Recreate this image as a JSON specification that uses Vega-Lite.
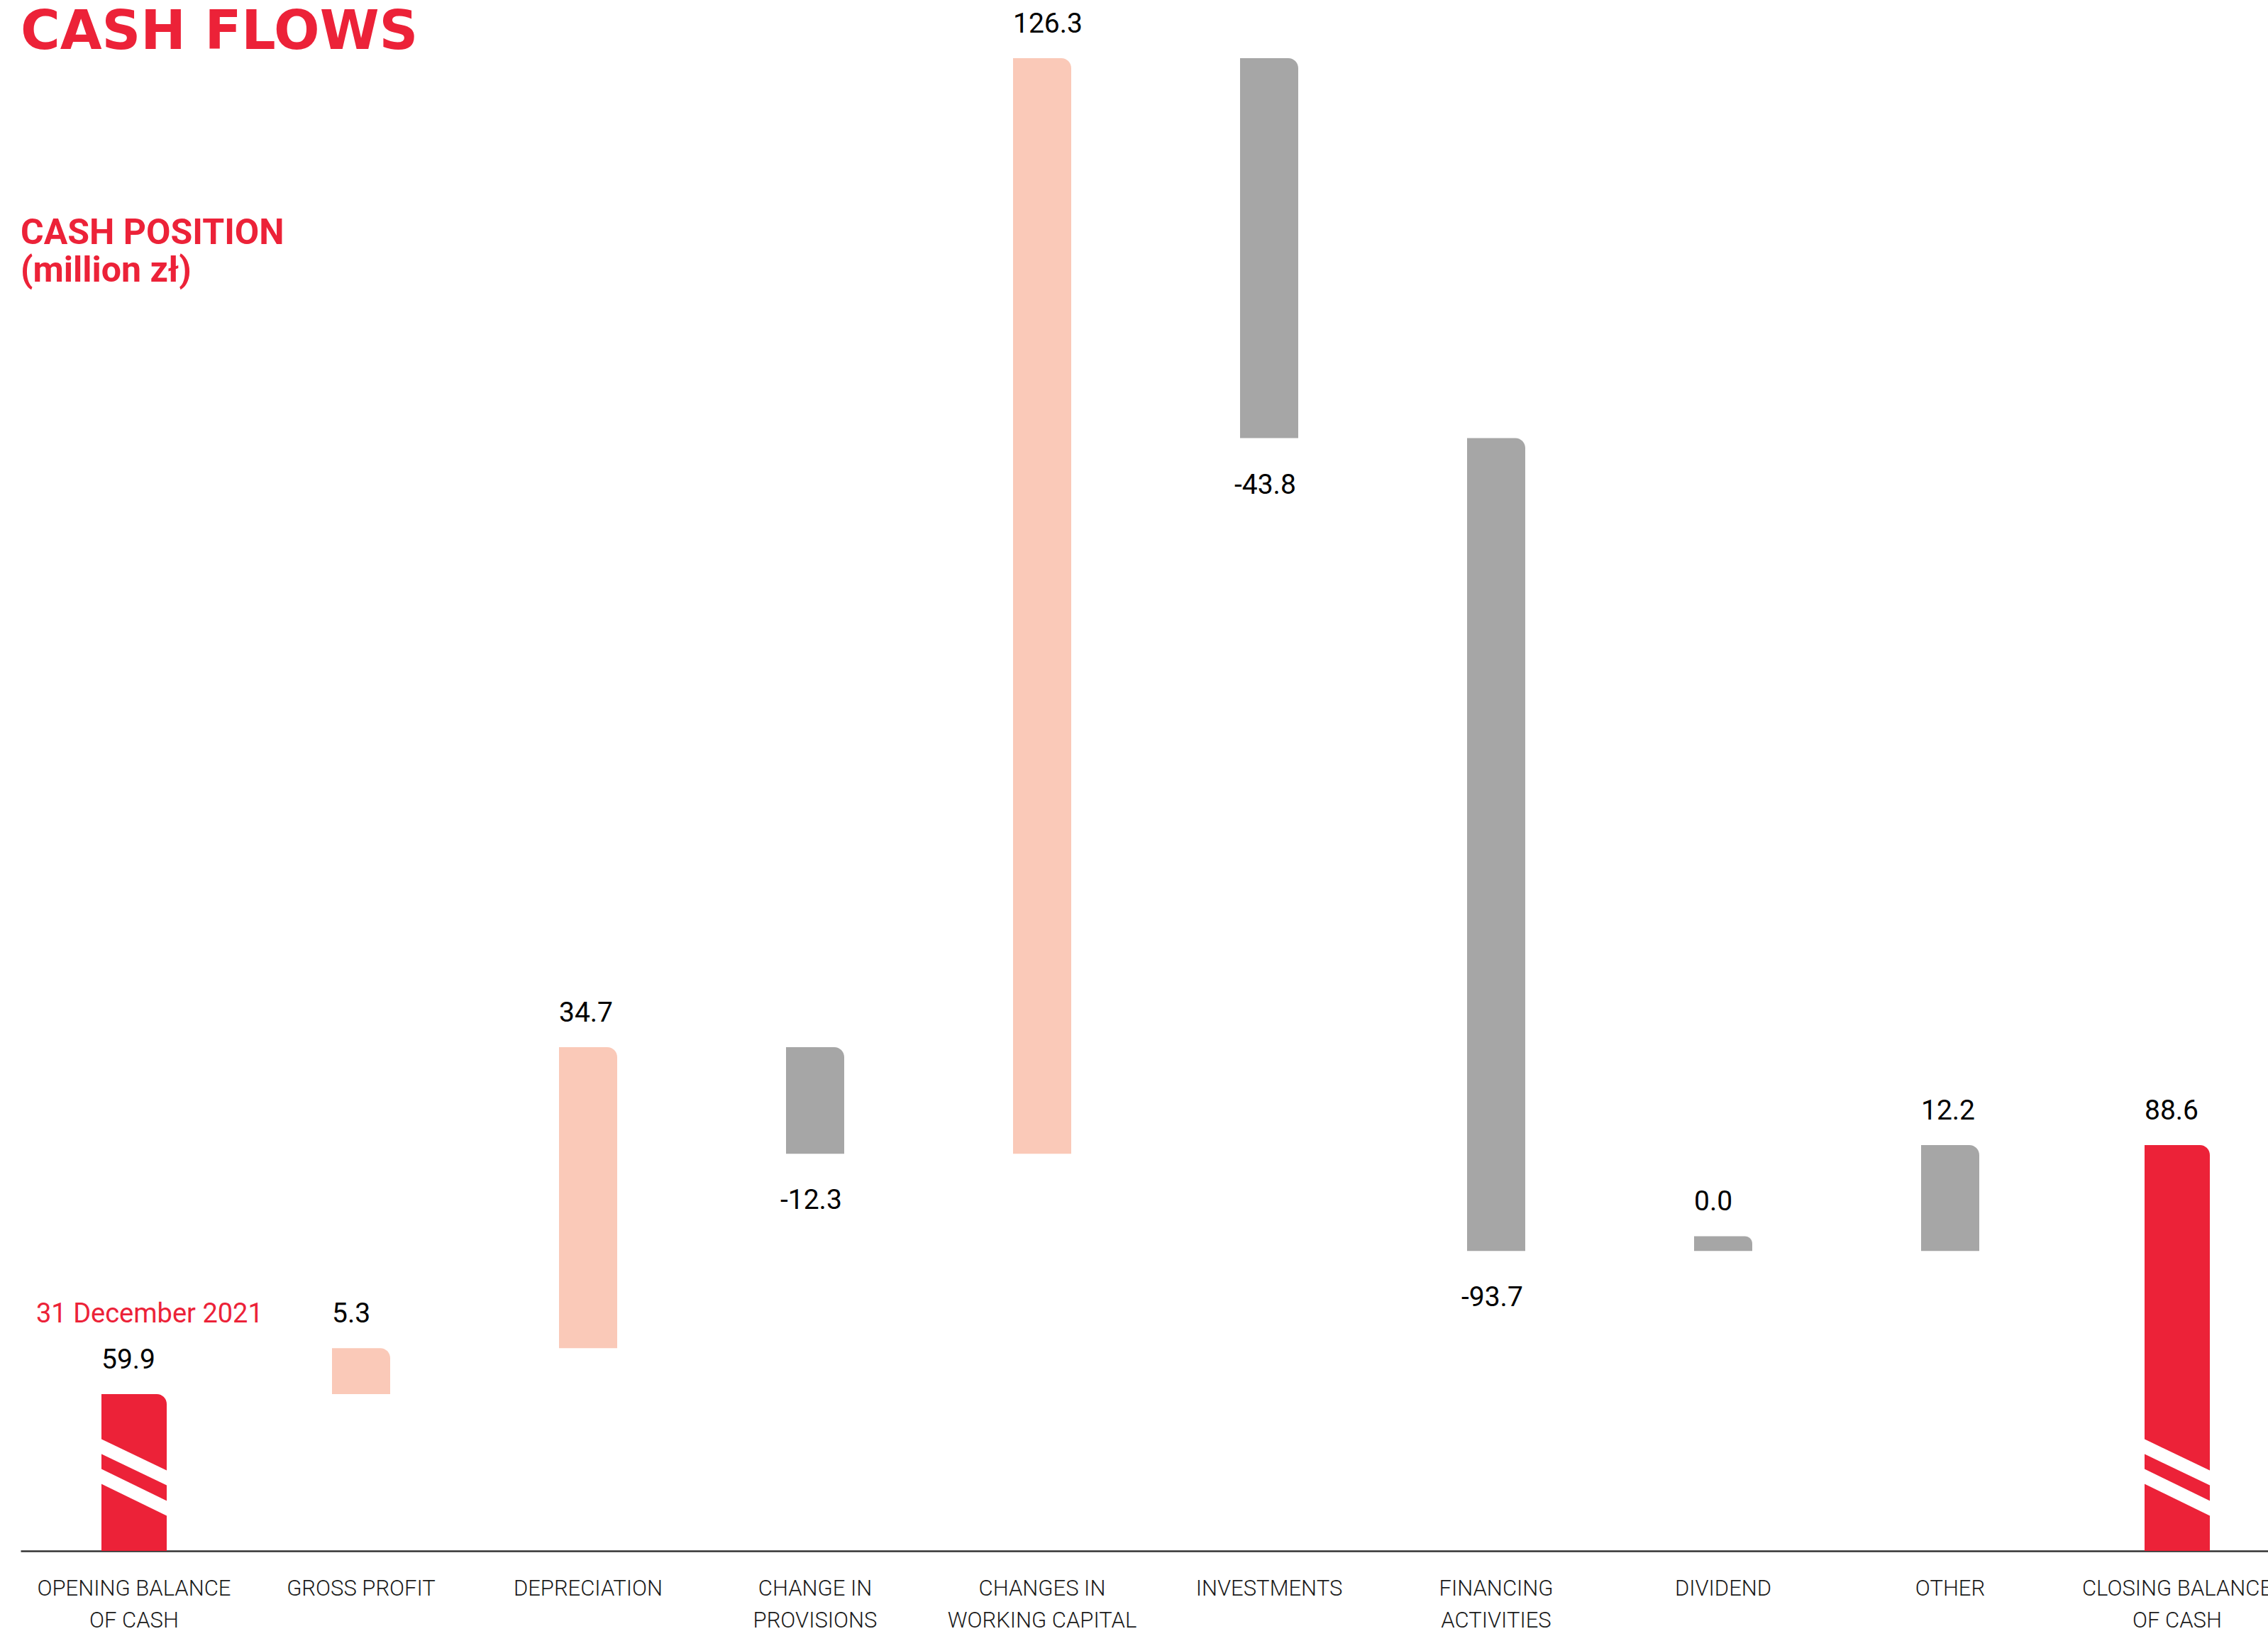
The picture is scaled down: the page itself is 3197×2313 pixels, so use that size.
{
  "$schema": "https://vega.github.io/schema/vega-lite/v6.json",
  "width": 3200,
  "height": 2186,
  "padding": {"left": 29, "top": 0, "right": 0, "bottom": 0},
  "background": "white",
  "title": {
    "text": "CASH FLOWS",
    "subtitle": ["CASH POSITION", "(million zł)"],
    "anchor": "start",
    "frame": "group",
    "orient": "top",
    "offset": -408,
    "font": "DejaVu Sans",
    "fontSize": 76,
    "fontWeight": 700,
    "color": "#EC2238",
    "subtitleFont": "Roboto",
    "subtitleFontSize": 50,
    "subtitleFontWeight": 700,
    "subtitleColor": "#EC2238",
    "subtitlePadding": 219,
    "subtitleLineHeight": 53
  },
  "config": {"view": {"stroke": null}},
  "datasets": {
    "flows": [
      {"item": "OPENING BALANCE|OF CASH", "start": 0, "end": 59.9, "value": 59.9, "label": "59.9", "group": "balance", "note": "31 December 2021"},
      {"item": "GROSS PROFIT", "start": 59.9, "end": 65.2, "value": 5.3, "label": "5.3", "group": "operating"},
      {"item": "DEPRECIATION", "start": 65.2, "end": 99.9, "value": 34.7, "label": "34.7", "group": "operating"},
      {"item": "CHANGE IN|PROVISIONS", "start": 99.9, "end": 87.6, "value": -12.3, "label": "-12.3", "group": "other"},
      {"item": "CHANGES IN|WORKING CAPITAL", "start": 87.6, "end": 213.9, "value": 126.3, "label": "126.3", "group": "operating"},
      {"item": "INVESTMENTS", "start": 213.9, "end": 170.1, "value": -43.8, "label": "-43.8", "group": "other"},
      {"item": "FINANCING|ACTIVITIES", "start": 170.1, "end": 76.4, "value": -93.7, "label": "-93.7", "group": "other"},
      {"item": "DIVIDEND", "start": 76.4, "end": 78.1, "value": 0.0, "label": "0.0", "group": "other"},
      {"item": "OTHER", "start": 76.4, "end": 88.6, "value": 12.2, "label": "12.2", "group": "other"},
      {"item": "CLOSING BALANCE|OF CASH", "start": 0, "end": 88.6, "value": 88.6, "label": "88.6", "group": "balance"}
    ],
    "breaks": [
      {"item": "OPENING BALANCE|OF CASH", "y1": 54.4, "y2": 49.7},
      {"item": "OPENING BALANCE|OF CASH", "y1": 50.97, "y2": 46.19},
      {"item": "CLOSING BALANCE|OF CASH", "y1": 54.4, "y2": 49.7},
      {"item": "CLOSING BALANCE|OF CASH", "y1": 50.97, "y2": 46.19}
    ]
  },
  "data": {"name": "flows"},
  "encoding": {
    "x": {
      "field": "item",
      "type": "nominal",
      "sort": null,
      "scale": {
        "domain": ["OPENING BALANCE|OF CASH", "GROSS PROFIT", "DEPRECIATION", "CHANGE IN|PROVISIONS", "CHANGES IN|WORKING CAPITAL", "INVESTMENTS", "FINANCING|ACTIVITIES", "DIVIDEND", "OTHER", "CLOSING BALANCE|OF CASH"],
        "paddingInner": 0,
        "paddingOuter": 0
      },
      "axis": {
        "title": null,
        "ticks": false,
        "grid": false,
        "labelAngle": 0,
        "labelFont": "Roboto",
        "labelFontSize": 31,
        "labelFontWeight": 300,
        "labelColor": "#1a1a1a",
        "labelPadding": 38,
        "labelLineHeight": 45,
        "labelLimit": 0,
        "labelOverlap": false,
        "labelExpr": "split(datum.label, '|')",
        "domainColor": "#333333",
        "domainWidth": 2.5
      }
    }
  },
  "layer": [
    {
      "transform": [{"filter": "datum.group == 'balance'"}],
      "mark": {"type": "bar", "width": 92, "clip": true, "cornerRadiusTopRight": 14, "color": "#EC2238"},
      "encoding": {
        "y": {"field": "start", "type": "quantitative", "scale": {"domain": [41.83, 220.6], "nice": false, "zero": false}, "axis": null},
        "y2": {"field": "end"}
      }
    },
    {
      "transform": [{"filter": "datum.group != 'balance'"}],
      "mark": {"type": "bar", "width": 82, "cornerRadiusTopRight": 14},
      "encoding": {
        "y": {"field": "start", "type": "quantitative", "scale": {"domain": [41.83, 220.6], "nice": false, "zero": false}, "axis": null},
        "y2": {"field": "end"},
        "color": {"field": "group", "type": "nominal", "scale": {"domain": ["operating", "other"], "range": ["#FAC9B8", "#A6A6A6"]}, "legend": null}
      }
    },
    {
      "data": {"name": "breaks"},
      "mark": {"type": "rule", "color": "white", "strokeWidth": 19, "xOffset": -60, "x2Offset": 60, "clip": true},
      "encoding": {
        "x2": {"field": "item"},
        "y": {"field": "y1", "type": "quantitative", "scale": {"domain": [41.83, 220.6], "nice": false, "zero": false}, "axis": null},
        "y2": {"field": "y2"}
      }
    },
    {
      "transform": [{"filter": "datum.value >= 0 && datum.group != 'balance'"}],
      "mark": {"type": "text", "align": "left", "baseline": "alphabetic", "dx": -41, "dy": -36, "font": "Roboto", "fontSize": 39, "color": "#000000"},
      "encoding": {
        "y": {"field": "end", "type": "quantitative", "scale": {"domain": [41.83, 220.6], "nice": false, "zero": false}, "axis": null},
        "text": {"field": "label"}
      }
    },
    {
      "transform": [{"filter": "datum.group == 'balance'"}],
      "mark": {"type": "text", "align": "left", "baseline": "alphabetic", "dx": -46, "dy": -36, "font": "Roboto", "fontSize": 39, "color": "#000000"},
      "encoding": {
        "y": {"field": "end", "type": "quantitative", "scale": {"domain": [41.83, 220.6], "nice": false, "zero": false}, "axis": null},
        "text": {"field": "label"}
      }
    },
    {
      "transform": [{"filter": "datum.value < 0"}],
      "mark": {"type": "text", "align": "left", "baseline": "alphabetic", "dx": -49, "dy": 78, "font": "Roboto", "fontSize": 39, "color": "#000000"},
      "encoding": {
        "y": {"field": "end", "type": "quantitative", "scale": {"domain": [41.83, 220.6], "nice": false, "zero": false}, "axis": null},
        "text": {"field": "label"}
      }
    },
    {
      "transform": [{"filter": "isValid(datum.note)"}],
      "mark": {"type": "text", "align": "left", "baseline": "alphabetic", "dx": -138, "dy": -101, "font": "Roboto", "fontSize": 38, "color": "#EC2238"},
      "encoding": {
        "y": {"field": "end", "type": "quantitative", "scale": {"domain": [41.83, 220.6], "nice": false, "zero": false}, "axis": null},
        "text": {"field": "note"}
      }
    }
  ]
}
